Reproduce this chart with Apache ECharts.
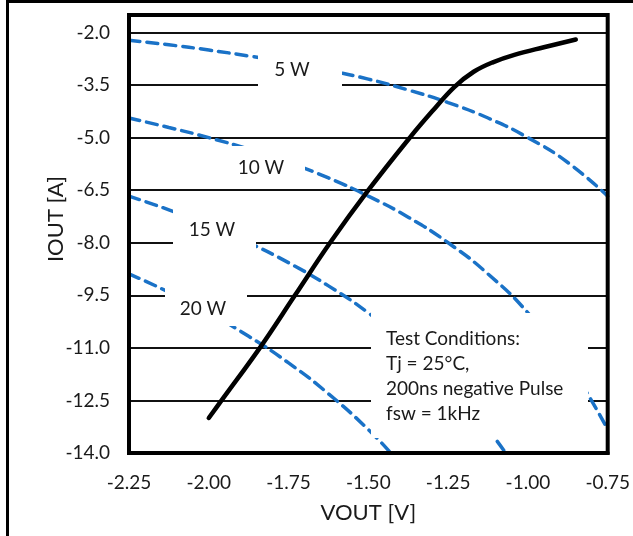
<!DOCTYPE html>
<html>
<head>
<meta charset="utf-8">
<script src="https://cdn.jsdelivr.net/npm/echarts@6/dist/echarts.min.js"></script>
<style>
  html, body { margin: 0; padding: 0; background: #fff; }
  #wrap { position: relative; width: 633px; height: 536px; overflow: hidden; }
  #chart { position: absolute; left: 0; top: 0; width: 633px; height: 536px; }
  #frame {
    position: absolute; left: 6px; top: 0; width: 700px; height: 600px;
    border-left: 3px solid #000; border-top: 3px solid #000; pointer-events: none;
  }
</style>
</head>
<body>
<div id="wrap">
  <div id="chart"></div>
  <div id="frame"></div>
</div>
<script>
// axis ticks
var xTicks = [-2.25, -2.0, -1.75, -1.5, -1.25, -1.0, -0.75]
var yTicks = [-14.0, -12.5, -11.0, -9.5, -8.0, -6.5, -5.0, -3.5, -2.0]

// measured curve (VOUT vs IOUT)
var measV = [-2.0, -1.96, -1.84, -1.73, -1.62, -1.5, -1.37, -1.3, -1.23, -1.17, -1.11, -1.04, -0.95, -0.85]
var measI = [-13.0, -12.5, -11.0, -9.5, -8.0, -6.5, -5.0, -4.25, -3.55, -3.12, -2.85, -2.63, -2.42, -2.2]

// constant power hyperbolas
var p5V = [-2.25, -2.125, -2.0, -1.875, -1.75, -1.625, -1.5, -1.375, -1.25, -1.125, -1.0, -0.875, -0.75]
var p5I = [-2.22, -2.35, -2.5, -2.67, -2.86, -3.08, -3.33, -3.64, -4.0, -4.44, -5.0, -5.71, -6.67]
var p10V = [-2.25, -2.125, -2.0, -1.875, -1.75, -1.625, -1.5, -1.375, -1.25, -1.125, -1.0, -0.875, -0.75]
var p10I = [-4.44, -4.71, -5.0, -5.33, -5.71, -6.15, -6.67, -7.27, -8.0, -8.89, -10.0, -11.43, -13.33]
var p15V = [-2.25, -2.125, -2.0, -1.875, -1.75, -1.625, -1.5, -1.375, -1.25, -1.125, -1.07]
var p15I = [-6.67, -7.06, -7.5, -8.0, -8.57, -9.23, -10.0, -10.91, -12.0, -13.33, -14.0]
var p20V = [-2.25, -2.125, -2.0, -1.875, -1.75, -1.625, -1.5, -1.43]
var p20I = [-8.89, -9.41, -10.0, -10.67, -11.43, -12.31, -13.33, -14.0]

var powerLabels = ['5 W', '10 W', '15 W', '20 W']
var conditions = ['Test Conditions:', 'Tj = 25°C,', '200ns negative Pulse', 'fsw = 1kHz']

var font = 'Lato, "Liberation Sans", sans-serif'
var blue = '#1a72c7'

function pairs(xs, ys) {
  return xs.map(function(x, i) { return [x, ys[i]] })
}

function dashed(name, xs, ys) {
  return {
    name: name,
    type: 'line',
    data: pairs(xs, ys),
    smooth: true,
    showSymbol: false,
    silent: true,
    z: 2,
    lineStyle: { color: blue, width: 3.5, type: [11, 7], cap: 'round' }
  }
}

// white label boxes, they cut the grid lines like in the original
function box(x, y, w, h, text, tx, ty) {
  return {
    type: 'group',
    z: 50,
    children: [
      { type: 'rect', shape: { x: x, y: y, width: w, height: h }, style: { fill: '#fff' }, z: 50 },
      {
        type: 'text', x: tx, y: ty, z: 51,
        style: { text: text, font: '19px ' + font, fill: '#1a1a1a', align: 'center', verticalAlign: 'middle' }
      }
    ]
  }
}

var chart = echarts.init(document.getElementById('chart'))

var option = {
  animation: false,
  backgroundColor: '#fff',
  grid: {
    left: 129, right: 19, top: 15, bottom: 83,
    show: true, borderColor: '#000', borderWidth: 4, z: 10
  },
  xAxis: {
    type: 'value',
    min: xTicks[0],
    max: xTicks[xTicks.length - 1],
    interval: 0.25,
    name: 'VOUT [V]',
    nameLocation: 'middle',
    nameGap: 49,
    nameTextStyle: { fontFamily: font, fontSize: 22, color: '#1a1a1a' },
    axisLine: { show: true, lineStyle: { color: '#000', width: 4 } },
    axisTick: { show: false },
    splitLine: { show: false },
    axisLabel: {
      fontFamily: font, fontSize: 19, color: '#1a1a1a', margin: 20,
      formatter: function(v) { return v.toFixed(2) }
    }
  },
  yAxis: {
    type: 'value',
    min: yTicks[0],
    max: -1.5,
    interval: 1.5,
    name: 'IOUT [A]',
    nameLocation: 'middle',
    nameRotate: 90,
    nameGap: 62,
    nameMoveOverlap: false,
    nameTextStyle: { fontFamily: font, fontSize: 22, color: '#1a1a1a', padding: [0, 0, 0, 30] },
    axisLine: { show: true, lineStyle: { color: '#000', width: 4 } },
    axisTick: { show: false },
    splitLine: { show: true, lineStyle: { color: '#111', width: 2 } },
    axisLabel: {
      fontFamily: font, fontSize: 19, color: '#1a1a1a', margin: 19,
      showMaxLabel: false,
      formatter: function(v) { return yTicks.indexOf(v) >= 0 ? v.toFixed(1) : '' }
    }
  },
  series: [
    dashed(powerLabels[0], p5V, p5I),
    dashed(powerLabels[1], p10V, p10I),
    dashed(powerLabels[2], p15V, p15I),
    dashed(powerLabels[3], p20V, p20I),
    {
      name: 'IOUT',
      type: 'line',
      data: pairs(measV, measI),
      smooth: 0.4,
      showSymbol: false,
      silent: true,
      z: 3,
      lineStyle: { color: '#000', width: 4.5, cap: 'round' }
    }
  ],
  graphic: [
    box(258, 50, 84, 38, powerLabels[0], 292, 70),
    box(220, 146, 85, 41, powerLabels[1], 261, 168),
    box(173, 205, 83, 45, powerLabels[2], 212, 230),
    box(165, 287, 82, 39, powerLabels[3], 203, 309),
    { type: 'rect', z: 50, shape: { x: 371, y: 313, width: 217, height: 125 }, style: { fill: '#fff' } },
    {
      type: 'text', z: 51, x: 386, y: 326,
      style: {
        text: conditions.join('\n'), font: '19px ' + font, fill: '#1a1a1a',
        lineHeight: 25, align: 'left', verticalAlign: 'top'
      }
    }
  ]
}

chart.setOption(option)
</script>
</body>
</html>
